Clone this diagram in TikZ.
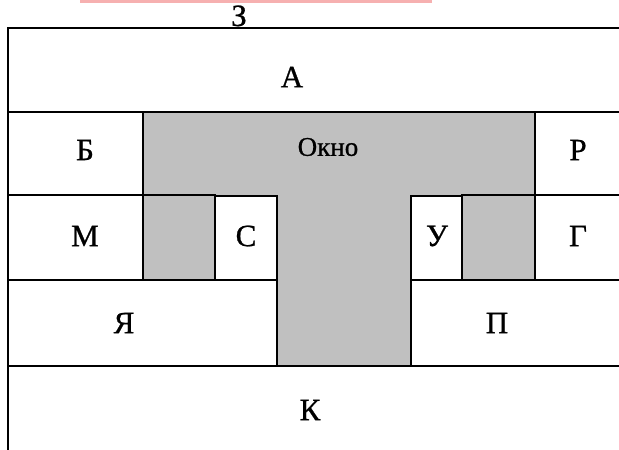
\documentclass[tikz,border=0pt]{standalone}
\usepackage{fontspec}
\setmainfont{Liberation Serif}[FakeBold=0.8]
\definecolor{wingray}{RGB}{192,192,192}
\definecolor{barpink}{RGB}{246,176,176}
\begin{document}
\begin{tikzpicture}[x=1pt,y=-1pt,
    wall/.style={draw=black, line width=1.2pt},
    roomlbl/.style={font=\fontsize{31}{33}\selectfont},
    winlbl/.style={font=\fontsize{27}{29}\selectfont}]
\useasboundingbox (0,0) rectangle (619,450);
\fill[white] (0,0) rectangle (619,450);

% -----------------------------
% Top strip and cut letter
% -----------------------------
\fill[barpink] (80,-5) rectangle (432,2.5);
\node[roomlbl, anchor=base] (zlbl) at (239,26) {З};

% -----------------------------
% Window (gray T)
% -----------------------------
\fill[wingray] (143,112) rectangle (535,195);
\fill[wingray] (143,195) rectangle (215,280);
\fill[wingray] (462,195) rectangle (535,280);
\fill[wingray] (277,195) rectangle (411,366);

% -----------------------------
% Rooms
% -----------------------------
\draw[wall] (8,28) rectangle (650,112);   % A
\draw[wall] (8,112) rectangle (143,195);  % B
\draw[wall] (535,112) rectangle (650,195);% R
\draw[wall] (8,195) rectangle (143,280);  % M
\draw[wall] (143,195) rectangle (215,280);
\draw[wall] (215,196) rectangle (277,280);% S
\draw[wall] (411,196) rectangle (462,280);% U
\draw[wall] (462,195) rectangle (535,280);
\draw[wall] (535,195) rectangle (650,280);% G
\draw[wall] (8,280) rectangle (277,366);  % Ya
\draw[wall] (411,280) rectangle (650,366);% P
\draw[wall] (8,366) rectangle (650,470);  % K

% thick tops of S and U
\draw[line width=2.6pt] (215,196) -- (250,196);
\draw[line width=2.6pt] (411,196) -- (462,196);

% -----------------------------
% Labels
% -----------------------------
\node[roomlbl] (a) at (292,77) {А};
\node[winlbl] (okno) at (328,147) {Окно};
\node[roomlbl] (b) at (85,150) {Б};
\node[roomlbl] (r) at (578,150) {Р};
\node[roomlbl] (m) at (85,236) {М};
\node[roomlbl] (s) at (246,236) {С};
\node[roomlbl] (u) at (437,236) {У};
\node[roomlbl] (g) at (578,236) {Г};
\node[roomlbl] (ya) at (124,323) {Я};
\node[roomlbl] (p) at (497,323) {П};
\node[roomlbl] (k) at (310,410) {К};

\end{tikzpicture}
\end{document}
